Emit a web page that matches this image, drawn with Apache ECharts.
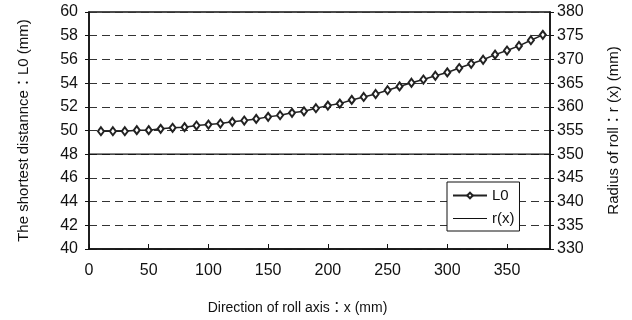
<!DOCTYPE html>
<html>
<head>
<meta charset="utf-8">
<script src="https://cdn.jsdelivr.net/npm/echarts@6/dist/echarts.min.js"></script>
<style>
  html, body { margin: 0; padding: 0; background: #fff; }
  #grafica { width: 632px; height: 320px; }
</style>
</head>
<body>
<div id="grafica"></div>
<script>
// Posiciones a lo largo del eje del rodillo (mm)
const posicionesX = [10, 20, 30, 40, 50, 60, 70, 80, 90, 100, 110, 120, 130, 140, 150, 160, 170, 180, 190,
  200, 210, 220, 230, 240, 250, 260, 270, 280, 290, 300, 310, 320, 330, 340, 350, 360, 370, 380];

// Distancia mínima L0 (mm)
const valoresL0 = [49.94, 49.94, 49.94, 50.03, 50.03, 50.14, 50.23, 50.28, 50.42, 50.50, 50.59, 50.73, 50.84,
  50.98, 51.15, 51.29, 51.49, 51.62, 51.88, 52.10, 52.27, 52.58, 52.83, 53.08, 53.40, 53.72, 54.03, 54.30,
  54.62, 54.90, 55.27, 55.63, 55.97, 56.40, 56.75, 57.14, 57.62, 58.07];

// Radio del rodillo r(x) (mm), constante
const posicionesR = [0, 386];
const valoresR = [350, 350];

// Rangos de los ejes
const ejeX = { min: 0, max: 386, interval: 50 };
const ejeIzq = { min: 40, max: 60, interval: 2 };
const ejeDer = { min: 330, max: 380, interval: 5 };

const fuente = 'Liberation Sans, Arial, Noto Sans CJK JP, sans-serif';
const negro = '#111';

const myChart = echarts.init(document.getElementById('grafica'));

const datosL0 = posicionesX.map((x, i) => [x, valoresL0[i]]);
const datosR = posicionesR.map((x, i) => [x, valoresR[i]]);

let option = {
  backgroundColor: '#fff',
  animation: false,
  textStyle: { fontFamily: fuente, color: negro },
  grid: {
    left: 89, top: 12, width: 461, height: 238,
    show: true, borderColor: negro, borderWidth: 1.5, backgroundColor: 'transparent'
  },
  legend: {
    orient: 'vertical',
    left: 447, top: 182,
    itemWidth: 34, itemHeight: 7, itemGap: 8,
    padding: [6, 5, 5, 5],
    borderColor: negro, borderWidth: 1, backgroundColor: '#fff',
    textStyle: { fontSize: 15, color: negro, fontFamily: fuente },
    data: [
      { name: 'L0', itemStyle: { color: '#222', borderColor: '#222' } },
      { name: 'r(x)', itemStyle: { opacity: 0 }, lineStyle: { width: 1 } }
    ]
  },
  xAxis: {
    type: 'value',
    min: ejeX.min, max: ejeX.max, interval: ejeX.interval,
    name: 'Direction of roll axis：x (mm)',
    nameLocation: 'middle', nameGap: 52,
    nameTextStyle: { fontSize: 14, color: negro, padding: [0, 44, 0, 0] },
    axisLine: { show: true, lineStyle: { color: negro, width: 1.5 } },
    axisTick: { show: true, inside: true, length: 5, lineStyle: { color: negro } },
    axisLabel: { fontSize: 16, color: negro, margin: 14, showMaxLabel: false },
    splitLine: { show: false }
  },
  yAxis: [
    {
      type: 'value',
      min: ejeIzq.min, max: ejeIzq.max, interval: ejeIzq.interval,
      name: 'The shortest distannce：L0 (mm)',
      nameLocation: 'middle', nameGap: 58, nameRotate: 90,
      nameTextStyle: { fontSize: 15, color: negro },
      axisLine: { show: true, lineStyle: { color: negro, width: 1.5 } },
      axisTick: { show: true, length: 4, lineStyle: { color: negro } },
      axisLabel: { fontSize: 16, color: negro, margin: 11 },
      splitLine: { show: true, lineStyle: { color: '#333', width: 1, type: [8, 5] } }
    },
    {
      type: 'value',
      min: ejeDer.min, max: ejeDer.max, interval: ejeDer.interval,
      name: 'Radius of roll：r (x) (mm)',
      nameLocation: 'middle', nameGap: 56, nameRotate: 90,
      nameTextStyle: { fontSize: 15, color: negro },
      axisLine: { show: true, lineStyle: { color: negro, width: 1.5 } },
      axisTick: { show: true, length: 4, lineStyle: { color: negro } },
      axisLabel: { fontSize: 16, color: negro, margin: 7 },
      splitLine: { show: false }
    }
  ],
  series: [
    {
      name: 'r(x)',
      type: 'line',
      yAxisIndex: 1,
      data: datosR,
      symbol: 'none',
      lineStyle: { color: negro, width: 1.2 },
      itemStyle: { color: negro },
      z: 3
    },
    {
      name: 'L0',
      type: 'line',
      yAxisIndex: 0,
      data: datosL0,
      symbol: 'emptyDiamond',
      symbolSize: [6, 8],
      lineStyle: { color: '#222', width: 1.5 },
      itemStyle: { color: '#222', borderWidth: 1.5 },
      z: 4
    }
  ]
};

myChart.setOption(option);
</script>
</body>
</html>
